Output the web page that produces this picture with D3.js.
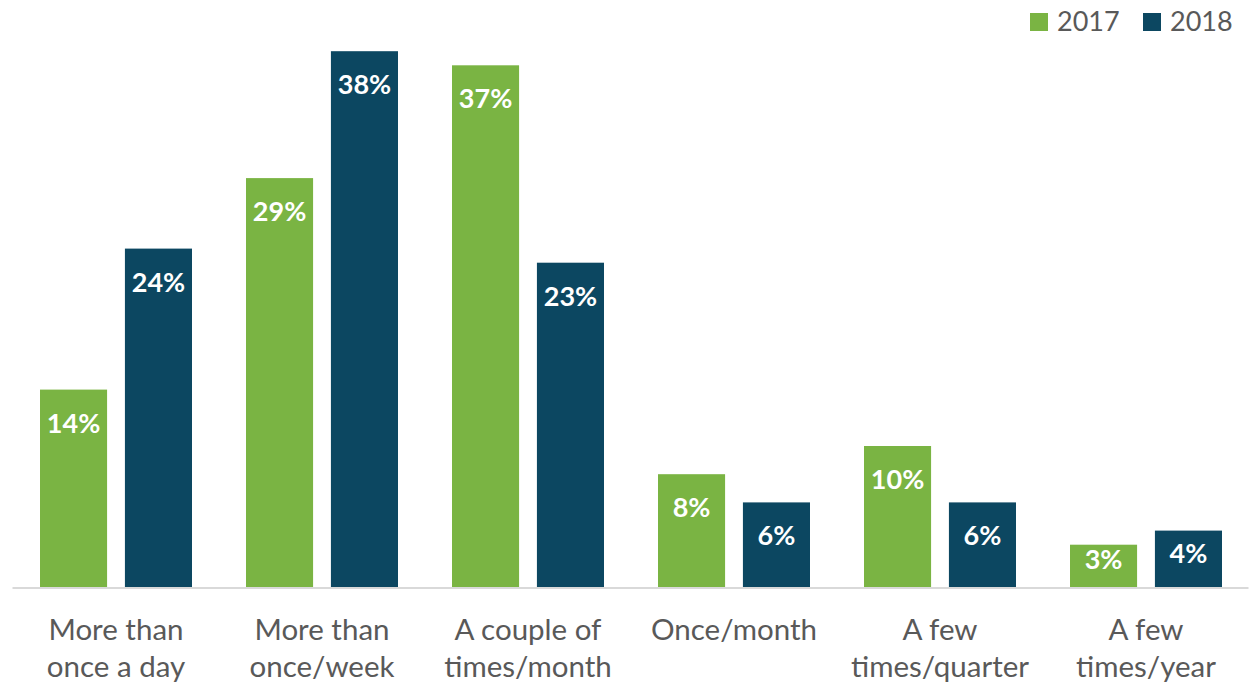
<!DOCTYPE html>
<html>
<head>
<meta charset="utf-8">
<script src="https://cdn.jsdelivr.net/npm/d3@7"></script>
<style>
  html, body { margin: 0; padding: 0; background: #fff; }
  svg { display: block; }
  text { font-family: Lato, "Open Sans", sans-serif; }
</style>
</head>
<body>
<svg id="chart" width="1255" height="684"></svg>
<script>
// Frequency categories (two-line axis labels)
const categories = [
  ["More than", "once a day"],
  ["More than", "once/week"],
  ["A couple of", "times/month"],
  ["Once/month"],
  ["A few", "times/quarter"],
  ["A few", "times/year"]
];
const seriesNames = ["2017", "2018"];
const values2017 = [14, 29, 37, 8, 10, 3];
const values2018 = [24, 38, 23, 6, 6, 4];
const colors = ["#7AB443", "#0C4761"];

const svg = d3.select("#chart");
const baseY = 587;

const x0 = d3.scaleBand()
  .domain(d3.range(categories.length))
  .range([12, 1248])
  .paddingInner(0)
  .paddingOuter(0);

const x1 = d3.scaleBand()
  .domain(seriesNames)
  .range([28, 180])
  .paddingInner(0.21);

const y = d3.scaleLinear().domain([0, 40]).range([baseY, baseY - 564]);

const rows = categories.map((c, i) => ({
  i,
  vals: [
    { s: "2017", v: values2017[i] },
    { s: "2018", v: values2018[i] }
  ]
}));

const groups = svg.append("g").selectAll("g")
  .data(rows)
  .join("g")
  .attr("transform", d => `translate(${x0(d.i)},0)`);

groups.selectAll("rect")
  .data(d => d.vals)
  .join("rect")
  .attr("x", d => x1(d.s))
  .attr("y", d => y(d.v))
  .attr("width", x1.bandwidth())
  .attr("height", d => baseY - y(d.v))
  .attr("fill", (d, j) => colors[j]);

groups.selectAll("text.val")
  .data(d => d.vals)
  .join("text")
  .attr("class", "val")
  .attr("x", d => x1(d.s) + x1.bandwidth() / 2)
  .attr("y", d => {
    const h = baseY - y(d.v);
    return y(d.v) + Math.min(43, h * 0.58);
  })
  .attr("text-anchor", "middle")
  .attr("fill", "#fff")
  .attr("font-weight", "bold")
  .attr("font-size", 27)
  .text(d => d.v + "%");

// Baseline axis
const axis = d3.axisBottom(x0).tickSize(0).tickFormat("");
const axisG = svg.append("g")
  .attr("transform", `translate(0,${baseY + 0.5})`)
  .call(axis);
axisG.select(".domain").attr("stroke", "#D9D9D9").attr("stroke-width", 2);

// Category labels
const labels = svg.append("g").selectAll("text")
  .data(categories)
  .join("text")
  .attr("text-anchor", "middle")
  .attr("fill", "#595959")
  .attr("font-size", 29.5)
  .attr("x", (d, i) => x0(i) + 104)
  .attr("y", 640);
labels.selectAll("tspan")
  .data(d => d)
  .join("tspan")
  .attr("x", function () { return d3.select(this.parentNode).attr("x"); })
  .attr("dy", (d, k) => k === 0 ? 0 : 37)
  .text(d => d);

// Legend
const legend = svg.append("g");
const legendX = [1030, 1143];
seriesNames.forEach((s, j) => {
  legend.append("rect")
    .attr("x", legendX[j]).attr("y", 13)
    .attr("width", 18).attr("height", 18)
    .attr("fill", colors[j]);
  legend.append("text")
    .attr("x", legendX[j] + 27).attr("y", 31)
    .attr("fill", "#595959")
    .attr("font-size", 27)
    .text(s);
});
</script>
</body>
</html>
